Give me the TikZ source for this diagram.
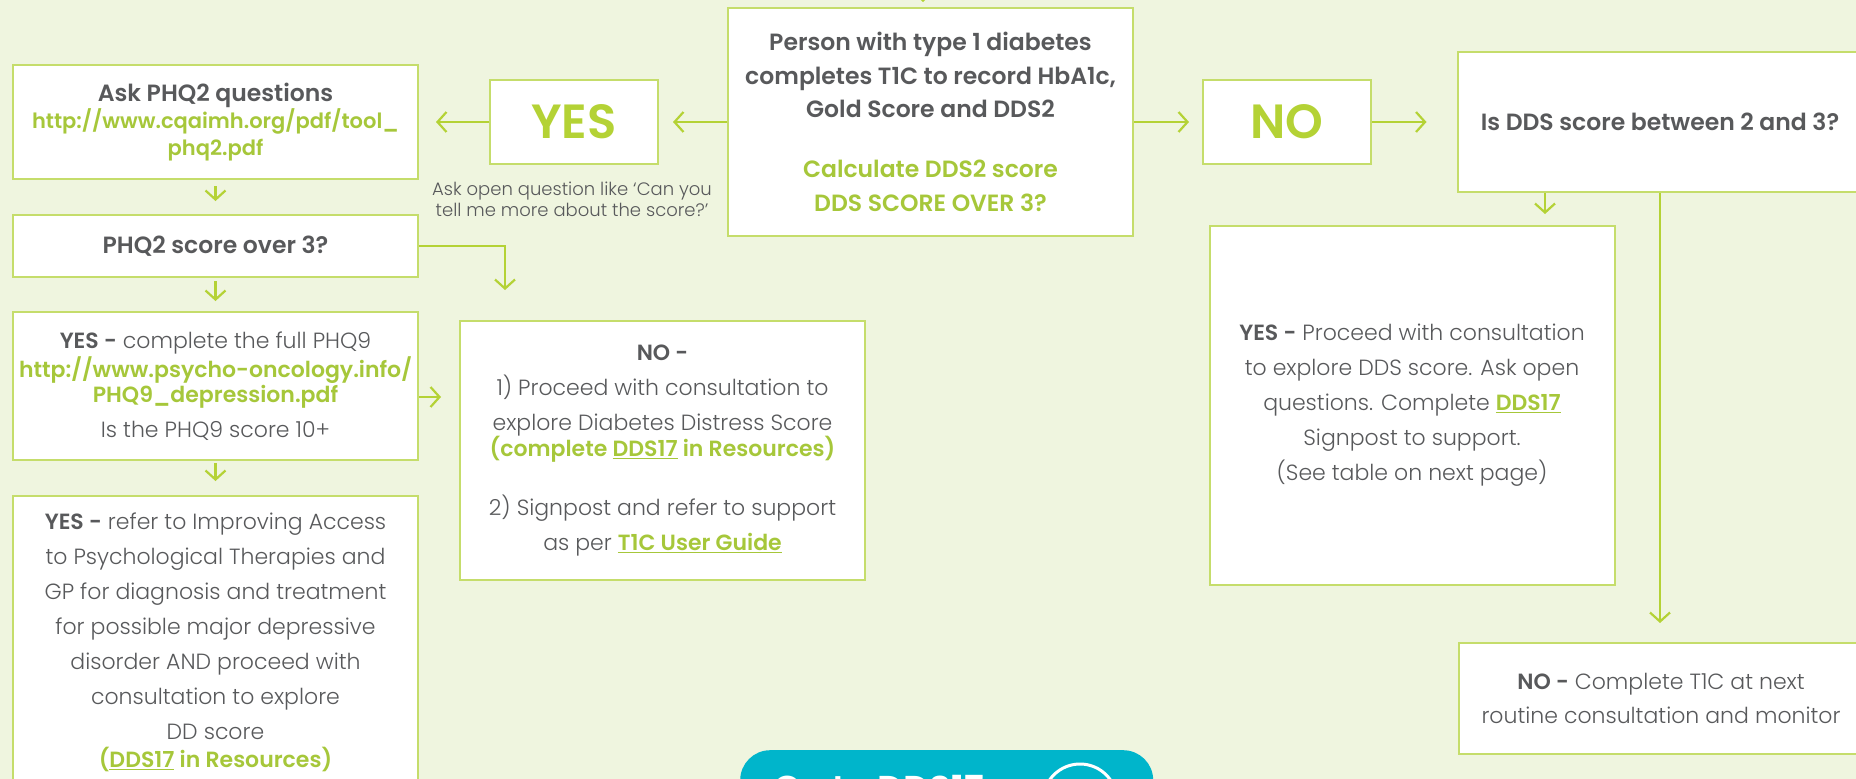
\documentclass[tikz,border=0pt]{standalone}
\usepackage{fontspec}
\setmainfont{Poppins Light}[BoldFont={Poppins SemiBold}]
\usetikzlibrary{arrows.meta}
\definecolor{bgcol}{HTML}{EFF5DF}
\definecolor{lime}{HTML}{B4D235}
\definecolor{edge}{HTML}{C5DD6B}
\definecolor{ink}{HTML}{58595B}
\definecolor{link}{HTML}{A6C73A}
\definecolor{btncol}{HTML}{00B5CB}
\newcommand{\hdfont}{\fontsize{23.5}{33.5}\selectfont}
\newcommand{\bodyfont}{\fontsize{22}{35}\selectfont}
\newcommand{\lk}[1]{\textcolor{link}{\bfseries #1}}
\tikzset{>={Straight Barb[length=9pt,width=20pt]}}

\begin{document}
\begin{tikzpicture}[x=1pt,y=-1pt,
    box/.style={draw=edge,line width=2pt,fill=white,minimum width=405pt,inner sep=0pt,align=center,text=ink,font=\bodyfont},
    big/.style={box,minimum width=168pt,minimum height=84pt,text=lime,font=\fontsize{48}{48}\selectfont\bfseries},
    conn/.style={draw=lime,line width=2.2pt,->}]
            \useasboundingbox (0,0) rectangle (1856,779);
            \clip (0,0) rectangle (1856,779);
            \fill[bgcol] (0,0) rectangle (1856,779);
            \node[box,minimum height=228pt,font=\hdfont] (start) at (930.5,122) {\textbf{Person with type 1 diabetes}\\ \textbf{completes T1C to record HbA1c,}\\ \textbf{Gold Score and DDS2}\\[26.5pt] \lk{Calculate DDS2 score}\\ \lk{DDS SCORE OVER 3?}};
            \node[big] (yes) at (574,122) {YES};
            \node[big] (nobox) at (1287,122) {NO};
            \node[align=center,text=ink,font=\fontsize{18}{21}\selectfont] (hint) at (572,199) {Ask open question like ‘Can you\\tell me more about the score?’};
            \node[box,minimum height=114pt,font=\fontsize{21}{27}\selectfont] (askphq) at (215.5,122) {\textbf{\fontsize{23.5}{27}\selectfont Ask PHQ2 questions}\\ \lk{http://www.cqaimh.org/pdf/tool\_}\\ \lk{phq2.pdf}};
            \node[box,minimum height=62pt,font=\hdfont] (phqscore) at (215.5,246) {\textbf{PHQ2 score over 3?}};
            \node[box,minimum height=148pt,font=\fontsize{22}{29}\selectfont] (phqnine) at (215.5,386) {\textbf{YES -} complete the full PHQ9\\ \lk{http://www.psycho-oncology.info/}\\[-4pt] \lk{PHQ9\_depression.pdf}\\[6pt] Is the PHQ9 score 10+};
            \node[box,minimum height=292pt] (refer) at (215.5,642) {\textbf{YES -} refer to Improving Access\\to Psychological Therapies and\\GP for diagnosis and treatment\\for possible major depressive\\disorder AND proceed with\\consultation to explore\\DD score\\[-7pt] \lk{(\underline{DDS17} in Resources)}};
            \node[box,minimum height=259pt] (nodds) at (662.5,450.5) {\textbf{NO -}\\1) Proceed with consultation to\\explore Diabetes Distress Score\\[-9pt] \lk{(complete \underline{DDS17} in Resources)}\\[24pt] 2) Signpost and refer to support\\as per \lk{\underline{T1C User Guide}}};
            \node[box,minimum height=140pt,font=\hdfont] (ddsq) at (1660,122) {\textbf{Is DDS score between 2 and 3?}};
            \node[box,minimum height=359pt] (ddsyes) at (1412,405.5) {\textbf{YES -} Proceed with consultation\\to explore DDS score. Ask open\\questions. Complete \lk{\underline{DDS17}}\\Signpost to support.\\(See table on next page)};
            \node[box,minimum height=111pt,font=\fontsize{22}{34}\selectfont] (ddsno) at (1661,698.5) {\textbf{NO -} Complete T1C at next\\routine consultation and monitor};
            \node[fill=btncol,rounded corners=30pt,minimum width=413pt,minimum height=110pt,anchor=north west] (gobtn) at (740,750) {};
            \node[anchor=base west,inner sep=0pt,text=white,font=\fontsize{36}{36}\selectfont\bfseries] (gotext) at (773,801) {Go to DDS17};
            \node[circle,draw=white,line width=3pt,minimum size=74pt] (goicon) at (1080,801) {};
            \coordinate (above) at (923,-30);
            \coordinate (nodrop) at (505,321);
            \draw[conn,shorten >=5pt] (above) -- (above |- start.north);
            \draw[conn,shorten >=14pt] (start) -- (yes);
            \draw[conn,shorten >=17pt] (yes) -- (askphq);
            \draw[conn,shorten >=13pt] (start) -- (nobox);
            \draw[conn,shorten >=30pt] (nobox) -- (ddsq);
            \draw[conn,shorten <=6pt,shorten >=13pt] (askphq) -- (phqscore);
            \draw[conn,shorten <=3pt,shorten >=10pt] (phqscore) -- (phqnine);
            \draw[conn,shorten <=2pt,shorten >=14pt] (phqnine) -- (refer);
            \draw[conn,shorten >=31pt] (phqscore.east) -| (nodrop);
            \draw[conn,shorten >=18pt] ([yshift=-11pt]phqnine.east) -- ([yshift=-11pt]phqnine.east -| nodds.west);
            \draw[conn,shorten >=11pt] ([xshift=-115pt]ddsq.south) -- ([xshift=-115pt]ddsq.south |- ddsyes.north);
            \draw[conn,shorten >=19pt] (ddsq.south) -- (ddsq.south |- ddsno.north);
\end{tikzpicture}
\end{document}
